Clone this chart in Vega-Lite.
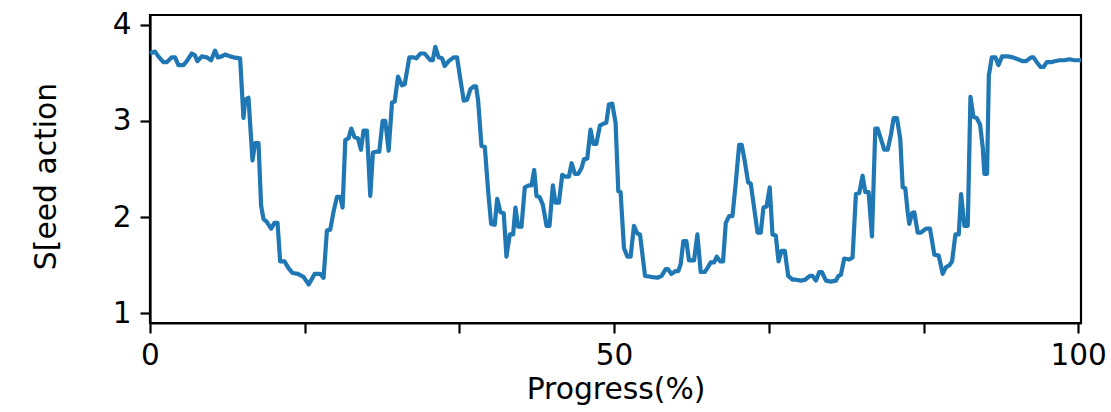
{
"$schema": "https://vega.github.io/schema/vega-lite/v6.json",
"width": 931,
"height": 308,
"autosize": "none",
"padding": {"left": 150, "top": 15, "right": 30, "bottom": 89},
"background": "white",
"config": {
  "font": "DejaVu Sans",
  "view": {"stroke": "black", "strokeWidth": 2.2},
  "axis": {"grid": false, "domainColor": "black", "domainWidth": 2.2, "tickColor": "black", "tickWidth": 2.2, "tickSize": 10, "labelColor": "black", "labelFont": "DejaVu Sans", "labelFontSize": 29.5, "titleFont": "DejaVu Sans", "titleFontSize": 29.8, "titleFontWeight": "normal", "titleColor": "black"}
},
"data": {"values": [
{"p":0,"v":3.70},{"p":0.54,"v":3.72},{"p":0.90,"v":3.67},{"p":1.44,"v":3.61},{"p":1.80,"v":3.61},{"p":2.34,"v":3.66},{"p":2.70,"v":3.66},{"p":3.06,"v":3.58},{"p":3.60,"v":3.58},{"p":3.96,"v":3.62},{"p":4.50,"v":3.70},{"p":4.85,"v":3.68},{"p":5.10,"v":3.62},{"p":5.58,"v":3.67},{"p":6.11,"v":3.66},{"p":6.58,"v":3.63},{"p":7.01,"v":3.73},{"p":7.30,"v":3.66},{"p":7.73,"v":3.67},{"p":8.09,"v":3.69},{"p":8.63,"v":3.67},{"p":8.99,"v":3.66},{"p":9.71,"v":3.65},
{"p":10.07,"v":3.03},{"p":10.25,"v":3.22},{"p":10.61,"v":3.24},{"p":11.04,"v":2.59},{"p":11.33,"v":2.77},{"p":11.69,"v":2.77},{"p":11.97,"v":2.12},{"p":12.23,"v":1.98},{"p":12.58,"v":1.95},{"p":13.05,"v":1.88},{"p":13.41,"v":1.94},{"p":13.74,"v":1.94},{"p":14.02,"v":1.54},{"p":14.49,"v":1.54},{"p":14.92,"v":1.47},{"p":15.35,"v":1.42},{"p":15.93,"v":1.41},{"p":16.54,"v":1.38},{"p":17.1,"v":1.30},{"p":17.73,"v":1.41},{"p":18.34,"v":1.41},{"p":18.70,"v":1.37},{"p":19.06,"v":1.86},{"p":19.42,"v":1.87},{"p":19.78,"v":2.06},
{"p":20.14,"v":2.21},{"p":20.50,"v":2.21},{"p":20.75,"v":2.10},{"p":21.04,"v":2.80},{"p":21.39,"v":2.82},{"p":21.68,"v":2.92},{"p":22.04,"v":2.83},{"p":22.40,"v":2.82},{"p":22.73,"v":2.70},{"p":23.01,"v":2.90},{"p":23.37,"v":2.90},{"p":23.73,"v":2.22},{"p":24.02,"v":2.67},{"p":24.38,"v":2.68},{"p":24.70,"v":2.68},{"p":25.06,"v":3.00},{"p":25.35,"v":3.00},{"p":25.71,"v":2.69},{"p":26.07,"v":3.19},{"p":26.36,"v":3.20},{"p":26.72,"v":3.46},{"p":27.15,"v":3.37},{"p":27.44,"v":3.38},{"p":27.94,"v":3.66},{"p":28.41,"v":3.66},{"p":28.69,"v":3.65},{"p":29.13,"v":3.70},{"p":29.59,"v":3.70},
{"p":30.20,"v":3.63},{"p":30.46,"v":3.63},{"p":30.74,"v":3.77},{"p":31.10,"v":3.66},{"p":31.46,"v":3.65},{"p":31.75,"v":3.57},{"p":32.18,"v":3.62},{"p":32.72,"v":3.66},{"p":33.08,"v":3.66},{"p":33.44,"v":3.43},{"p":33.80,"v":3.21},{"p":34.16,"v":3.22},{"p":34.52,"v":3.33},{"p":34.88,"v":3.36},{"p":35.13,"v":3.36},{"p":35.35,"v":3.21},{"p":35.71,"v":2.74},{"p":36.07,"v":2.73},{"p":36.43,"v":2.27},{"p":36.75,"v":1.93},{"p":37.14,"v":1.92},{"p":37.40,"v":2.19},{"p":37.76,"v":2.05},{"p":38.11,"v":2.04},{"p":38.40,"v":1.59},{"p":38.76,"v":1.82},{"p":39.12,"v":1.82},{"p":39.37,"v":2.10},{"p":39.66,"v":1.90},
{"p":40.02,"v":1.90},{"p":40.38,"v":2.31},{"p":40.81,"v":2.33},{"p":41.10,"v":2.33},{"p":41.39,"v":2.49},{"p":41.64,"v":2.22},{"p":41.96,"v":2.21},{"p":42.32,"v":2.13},{"p":42.72,"v":1.91},{"p":43.04,"v":1.91},{"p":43.40,"v":2.33},{"p":43.69,"v":2.15},{"p":44.05,"v":2.15},{"p":44.41,"v":2.44},{"p":44.77,"v":2.42},{"p":45.13,"v":2.42},{"p":45.42,"v":2.56},{"p":45.77,"v":2.45},{"p":46.14,"v":2.45},{"p":46.49,"v":2.51},{"p":46.75,"v":2.60},{"p":47.11,"v":2.61},{"p":47.46,"v":2.91},{"p":47.76,"v":2.76},{"p":48.08,"v":2.76},{"p":48.47,"v":2.95},{"p":48.83,"v":2.97},{"p":49.16,"v":2.98},{"p":49.44,"v":3.17},{"p":49.80,"v":3.18},
{"p":50.16,"v":2.98},{"p":50.45,"v":2.27},{"p":50.70,"v":2.26},{"p":51.06,"v":1.68},{"p":51.42,"v":1.59},{"p":51.78,"v":1.59},{"p":52.14,"v":1.91},{"p":52.50,"v":1.83},{"p":52.79,"v":1.82},{"p":53.33,"v":1.39},{"p":53.94,"v":1.38},{"p":54.66,"v":1.37},{"p":55.12,"v":1.39},{"p":55.56,"v":1.46},{"p":55.80,"v":1.46},{"p":56.17,"v":1.41},{"p":56.63,"v":1.44},{"p":56.92,"v":1.44},{"p":57.17,"v":1.51},{"p":57.46,"v":1.75},{"p":57.79,"v":1.75},{"p":58.07,"v":1.55},{"p":58.61,"v":1.55},{"p":58.97,"v":1.82},{"p":59.33,"v":1.43},{"p":59.76,"v":1.43},
{"p":60.05,"v":1.47},{"p":60.41,"v":1.53},{"p":60.77,"v":1.53},{"p":61.06,"v":1.59},{"p":61.42,"v":1.54},{"p":61.74,"v":1.54},{"p":62.03,"v":1.94},{"p":62.39,"v":2.01},{"p":62.75,"v":2.01},{"p":63.11,"v":2.36},{"p":63.47,"v":2.75},{"p":63.75,"v":2.75},{"p":64.08,"v":2.58},{"p":64.44,"v":2.36},{"p":64.72,"v":2.35},{"p":65.08,"v":2.10},{"p":65.45,"v":1.84},{"p":65.80,"v":1.84},{"p":66.09,"v":2.10},{"p":66.42,"v":2.11},{"p":66.77,"v":2.31},{"p":67.06,"v":1.82},{"p":67.42,"v":1.81},{"p":67.71,"v":1.54},{"p":68.04,"v":1.65},{"p":68.39,"v":1.65},{"p":68.75,"v":1.39},{"p":69.22,"v":1.35},{"p":69.58,"v":1.35},
{"p":70.12,"v":1.34},{"p":70.59,"v":1.35},{"p":71.09,"v":1.39},{"p":71.38,"v":1.39},{"p":71.74,"v":1.34},{"p":72.10,"v":1.43},{"p":72.38,"v":1.43},{"p":72.82,"v":1.34},{"p":73.35,"v":1.33},{"p":73.89,"v":1.34},{"p":74.18,"v":1.39},{"p":74.43,"v":1.40},{"p":74.79,"v":1.57},{"p":75.33,"v":1.56},{"p":75.69,"v":1.58},{"p":76.05,"v":2.24},{"p":76.41,"v":2.25},{"p":76.77,"v":2.43},{"p":77.06,"v":2.26},{"p":77.42,"v":2.26},{"p":77.78,"v":1.80},{"p":78.14,"v":2.92},{"p":78.39,"v":2.92},{"p":78.75,"v":2.81},{"p":79.11,"v":2.70},{"p":79.47,"v":2.70},{"p":79.83,"v":2.86},
{"p":80.12,"v":3.03},{"p":80.47,"v":3.03},{"p":80.83,"v":2.81},{"p":81.09,"v":2.31},{"p":81.37,"v":2.30},{"p":81.63,"v":2.05},{"p":81.80,"v":1.93},{"p":82.09,"v":2.04},{"p":82.34,"v":2.05},{"p":82.71,"v":1.84},{"p":83.06,"v":1.84},{"p":83.60,"v":1.88},{"p":84.03,"v":1.88},{"p":84.50,"v":1.61},{"p":84.97,"v":1.60},{"p":85.40,"v":1.41},{"p":85.76,"v":1.48},{"p":86.12,"v":1.50},{"p":86.41,"v":1.54},{"p":86.77,"v":1.82},{"p":87.13,"v":1.82},{"p":87.38,"v":2.24},{"p":87.74,"v":1.91},{"p":88.10,"v":1.91},{"p":88.39,"v":3.25},{"p":88.71,"v":3.04},{"p":89.07,"v":3.03},{"p":89.43,"v":2.96},{"p":89.72,"v":2.72},{"p":89.89,"v":2.45},
{"p":90.18,"v":2.45},{"p":90.37,"v":3.47},{"p":90.69,"v":3.66},{"p":91.08,"v":3.66},{"p":91.40,"v":3.58},{"p":91.80,"v":3.67},{"p":92.41,"v":3.67},{"p":92.95,"v":3.66},{"p":93.49,"v":3.64},{"p":94.03,"v":3.62},{"p":94.39,"v":3.62},{"p":94.93,"v":3.66},{"p":95.18,"v":3.66},{"p":95.54,"v":3.61},{"p":95.94,"v":3.56},{"p":96.26,"v":3.56},{"p":96.62,"v":3.61},{"p":97.09,"v":3.61},{"p":97.45,"v":3.62},{"p":97.99,"v":3.63},{"p":98.52,"v":3.63},{"p":99.06,"v":3.64},{"p":99.60,"v":3.63},{"p":100.3,"v":3.63}
]},
"mark": {"type": "line", "color": "#1f77b4", "strokeWidth": 4.2, "strokeJoin": "round", "strokeCap": "butt"},
"encoding": {
  "x": {"field": "p", "type": "quantitative", "scale": {"domain": [0, 100.3], "nice": false, "zero": false},
        "axis": {"title": "Progress(%)", "values": [0, 16.6667, 33.3333, 50, 66.6667, 83.3333, 100],
                 "labelExpr": "datum.value % 50 == 0 ? format(datum.value, 'd') : ''",
                 "labelPadding": 8, "labelFlush": false, "labelOverlap": false,
                 "titleBaseline": "alphabetic", "titleY": 75}},
  "y": {"field": "v", "type": "quantitative", "scale": {"domain": [0.9, 4.1], "nice": false, "zero": false},
        "axis": {"title": "S[eed action", "values": [1, 2, 3, 4], "format": "d", "labelPadding": 9,
                 "titleAngle": -90, "titleBaseline": "bottom", "titleAlign": "center", "titleX": -89, "titleY": 161}}
}
}
